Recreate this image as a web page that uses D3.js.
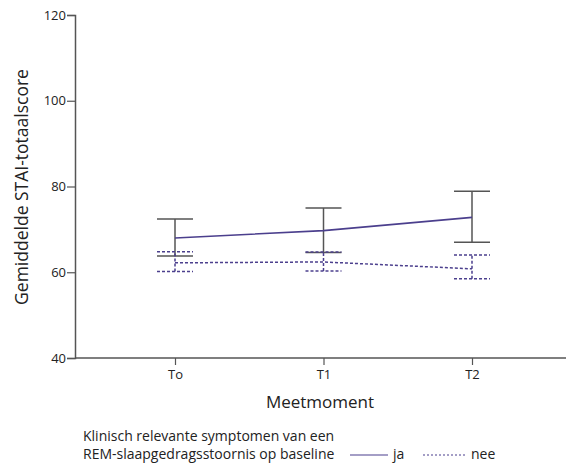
<!DOCTYPE html>
<html>
<head>
<meta charset="utf-8">
<script src="https://cdn.jsdelivr.net/npm/d3@7"></script>
<style>
  body { margin: 0; background: #fff; }
  text { font-family: "Open Sans", sans-serif; fill: #222; }
</style>
</head>
<body>
<div id="chart"></div>
<script>
// data
var moments = ["T0", "T1", "T2"];
var tickLabels = ["To", "T1", "T2"];
var jaMean = [68.0, 69.7, 72.8];
var jaLow = [63.8, 64.6, 67.0];
var jaHigh = [72.4, 75.0, 78.9];
var neeMean = [62.2, 62.4, 60.8];
var neeLow = [60.2, 60.3, 58.5];
var neeHigh = [64.8, 64.7, 64.0];
var yTicks = [40, 60, 80, 100, 120];

var w = 567, h = 464;
var purple = "#4b3f8d";
var axisColor = "#555";

var svg = d3.select("#chart").append("svg")
  .attr("width", w)
  .attr("height", h);

var x = d3.scalePoint().domain(moments).range([175, 472]);
var y = d3.scaleLinear().domain([40, 120]).range([358, 15]);

// y axis
var yg = svg.append("g").attr("transform", "translate(75,0)")
  .call(d3.axisLeft(y).tickValues(yTicks).tickSize(8).tickPadding(1));
yg.select(".domain").attr("stroke", axisColor).attr("stroke-width", 1.5);
yg.selectAll(".tick line").attr("stroke", axisColor).attr("stroke-width", 1.2);
yg.selectAll(".tick text").style("font-size", "13px").attr("fill", "#222");

// x axis
var xg = svg.append("g").attr("transform", "translate(0,358)")
  .call(d3.axisBottom(x).tickSize(7).tickPadding(5).tickFormat(function(d, i) { return tickLabels[i]; }));
xg.select(".domain").remove();
xg.append("line").attr("x1", 75).attr("x2", 566)
  .attr("stroke", axisColor).attr("stroke-width", 1.5);
xg.selectAll(".tick line").attr("stroke", axisColor).attr("stroke-width", 1.2);
xg.selectAll(".tick text").style("font-size", "13px").attr("fill", "#222");

// axis titles
svg.append("text")
  .attr("transform", "translate(28,187) rotate(-90)")
  .attr("text-anchor", "middle")
  .style("font-size", "17.5px")
  .text("Gemiddelde STAI-totaalscore");

svg.append("text")
  .attr("x", 320).attr("y", 408)
  .attr("text-anchor", "middle")
  .style("font-size", "17px")
  .text("Meetmoment");

// error bars
var capHalf = 18;
function errorBars(low, high, color, dash) {
  var g = svg.append("g")
    .attr("fill", "none")
    .attr("stroke", color)
    .attr("stroke-width", 1.5)
    .attr("stroke-dasharray", dash);
  moments.forEach(function(m, i) {
    g.append("line").attr("x1", x(m)).attr("x2", x(m))
      .attr("y1", y(low[i])).attr("y2", y(high[i]));
    g.append("line").attr("x1", x(m) - capHalf).attr("x2", x(m) + capHalf)
      .attr("y1", y(low[i])).attr("y2", y(low[i]));
    g.append("line").attr("x1", x(m) - capHalf).attr("x2", x(m) + capHalf)
      .attr("y1", y(high[i])).attr("y2", y(high[i]));
  });
}
errorBars(jaLow, jaHigh, "#555", null);
errorBars(neeLow, neeHigh, purple, "3,2");

// mean lines
var line = d3.line()
  .x(function(d, i) { return x(moments[i]); })
  .y(function(d) { return y(d); });

svg.append("path").datum(jaMean)
  .attr("d", line)
  .attr("fill", "none")
  .attr("stroke", purple)
  .attr("stroke-width", 1.6);

svg.append("path").datum(neeMean)
  .attr("d", line)
  .attr("fill", "none")
  .attr("stroke", purple)
  .attr("stroke-width", 1.5)
  .attr("stroke-dasharray", "3,2");

// legend
var lg = svg.append("g").style("font-size", "14px");
lg.append("text").attr("x", 83).attr("y", 441)
  .text("Klinisch relevante symptomen van een");
lg.append("text").attr("x", 83).attr("y", 459)
  .text("REM-slaapgedragsstoornis op baseline");
lg.append("line").attr("x1", 350).attr("x2", 388).attr("y1", 455).attr("y2", 455)
  .attr("stroke", purple).attr("stroke-width", 1.2);
lg.append("text").attr("x", 393).attr("y", 459).text("ja");
lg.append("line").attr("x1", 423).attr("x2", 465).attr("y1", 455).attr("y2", 455)
  .attr("stroke", purple).attr("stroke-width", 1.2).attr("stroke-dasharray", "2,2");
lg.append("text").attr("x", 471).attr("y", 459).text("nee");
</script>
</body>
</html>
